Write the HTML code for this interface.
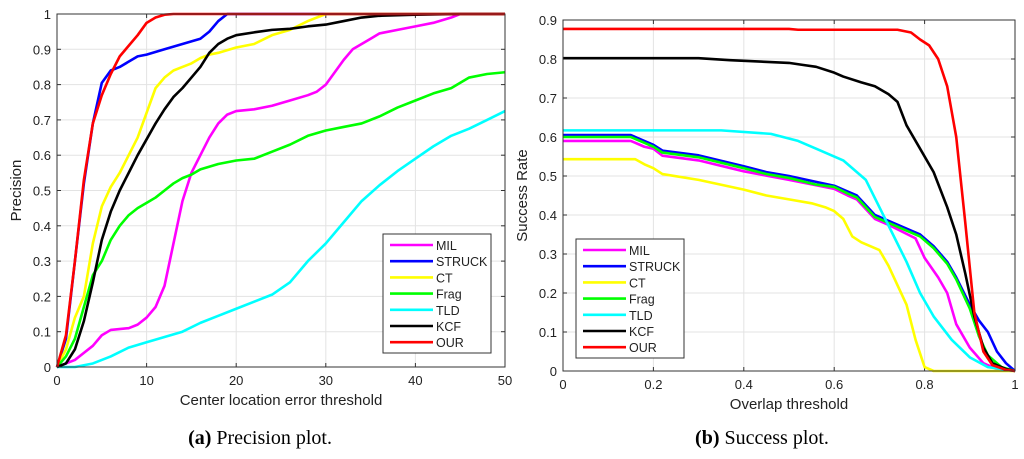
<!DOCTYPE html>
<html><head><meta charset="utf-8"><style>
body{margin:0;background:#fff;width:1024px;height:459px;overflow:hidden}
svg{display:block}
text{font-family:"Liberation Sans",sans-serif;fill:#222}
.cap{font-family:"Liberation Serif",serif;font-size:20px;fill:#000}
</style></head><body>
<svg id="s" width="1024" height="459">
<text class="cap" x="260" y="444" text-anchor="middle"><tspan font-weight="bold">(a)</tspan> Precision plot.</text>
<text class="cap" x="762" y="444" text-anchor="middle"><tspan font-weight="bold">(b)</tspan> Success plot.</text>
</svg>
<script>
const names=["MIL","STRUCK","CT","Frag","TLD","KCF","OUR"];
const colors=["#ff00ff","#0000ff","#ffff00","#00ff00","#00ffff","#000000","#ff0000"];
// Precision plot data [x, y]
const pMIL=[[0,0],[1,0.01],[2,0.02],[3,0.04],[4,0.06],[5,0.09],[6,0.105],[8,0.11],[9,0.12],[10,0.14],[11,0.17],[12,0.23],[13,0.35],[14,0.47],[15,0.55],[16,0.6],[17,0.65],[18,0.69],[19,0.715],[20,0.725],[22,0.73],[24,0.74],[26,0.755],[28,0.77],[29,0.78],[30,0.8],[31,0.835],[32,0.87],[33,0.9],[35,0.93],[36,0.945],[38,0.955],[40,0.965],[42,0.975],[44,0.99],[45,1],[50,1]];
const pSTRUCK=[[0,0],[1,0.08],[2,0.3],[3,0.52],[4,0.69],[5,0.805],[6,0.84],[7,0.85],[8,0.865],[9,0.88],[10,0.885],[12,0.9],[14,0.915],[16,0.93],[17,0.95],[18,0.98],[19,1],[50,1]];
const pCT=[[0,0],[1,0.05],[2,0.14],[3,0.2],[4,0.35],[5,0.455],[6,0.51],[7,0.55],[8,0.6],[9,0.65],[10,0.72],[11,0.79],[12,0.82],[13,0.84],[14,0.85],[15,0.86],[16,0.875],[17,0.885],[18,0.89],[20,0.905],[22,0.915],[24,0.94],[26,0.955],[28,0.98],[30,1],[50,1]];
const pFrag=[[0,0],[1,0.03],[2,0.08],[3,0.17],[4,0.26],[5,0.3],[6,0.36],[7,0.4],[8,0.43],[9,0.45],[10,0.465],[11,0.48],[12,0.5],[13,0.52],[14,0.535],[15,0.545],[16,0.56],[18,0.575],[20,0.585],[22,0.59],[24,0.61],[26,0.63],[28,0.655],[30,0.67],[32,0.68],[34,0.69],[36,0.71],[38,0.735],[40,0.755],[42,0.775],[44,0.79],[46,0.82],[48,0.83],[50,0.835]];
const pTLD=[[0,0],[2,0],[4,0.01],[6,0.03],[8,0.055],[10,0.07],[12,0.085],[14,0.1],[16,0.125],[18,0.145],[20,0.165],[22,0.185],[24,0.205],[26,0.24],[28,0.3],[30,0.35],[32,0.41],[34,0.47],[36,0.515],[38,0.555],[40,0.59],[42,0.625],[44,0.655],[46,0.675],[48,0.7],[50,0.725]];
const pKCF=[[0,0],[1,0.01],[2,0.05],[3,0.13],[4,0.24],[5,0.36],[6,0.44],[7,0.5],[8,0.55],[9,0.6],[10,0.645],[11,0.69],[12,0.73],[13,0.765],[14,0.79],[15,0.82],[16,0.85],[17,0.89],[18,0.915],[19,0.93],[20,0.94],[22,0.948],[24,0.955],[26,0.958],[28,0.965],[30,0.97],[32,0.98],[34,0.99],[36,0.995],[40,0.998],[45,1],[50,1]];
const pOUR=[[0,0],[1,0.09],[2,0.3],[3,0.53],[4,0.69],[5,0.77],[6,0.83],[7,0.88],[8,0.91],[9,0.94],[10,0.975],[11,0.99],[12,0.998],[13,1],[50,1]];
// Success plot data
const sMIL=[[0,0.59],[0.15,0.59],[0.18,0.575],[0.2,0.57],[0.22,0.552],[0.3,0.54],[0.4,0.512],[0.5,0.49],[0.6,0.467],[0.63,0.45],[0.65,0.44],[0.67,0.415],[0.69,0.39],[0.72,0.375],[0.78,0.34],[0.8,0.29],[0.83,0.24],[0.85,0.2],[0.87,0.12],[0.9,0.06],[0.93,0.02],[0.96,0.005],[1,0]];
const sSTRUCK=[[0,0.605],[0.15,0.605],[0.18,0.59],[0.2,0.58],[0.22,0.565],[0.3,0.553],[0.4,0.525],[0.45,0.51],[0.5,0.5],[0.56,0.485],[0.6,0.475],[0.63,0.46],[0.65,0.45],[0.67,0.425],[0.69,0.4],[0.72,0.385],[0.77,0.36],[0.79,0.35],[0.82,0.32],[0.85,0.28],[0.87,0.24],[0.9,0.17],[0.92,0.13],[0.94,0.1],[0.96,0.05],[0.98,0.02],[1,0]];
const sCT=[[0,0.543],[0.16,0.543],[0.18,0.53],[0.2,0.52],[0.22,0.505],[0.3,0.49],[0.4,0.465],[0.45,0.45],[0.5,0.44],[0.55,0.43],[0.58,0.42],[0.6,0.41],[0.62,0.39],[0.64,0.345],[0.66,0.33],[0.7,0.31],[0.72,0.27],[0.74,0.22],[0.76,0.17],[0.78,0.08],[0.8,0.01],[0.82,0],[1,0]];
const sFrag=[[0,0.6],[0.15,0.6],[0.18,0.585],[0.2,0.575],[0.22,0.56],[0.3,0.548],[0.4,0.52],[0.45,0.505],[0.5,0.495],[0.56,0.478],[0.6,0.472],[0.63,0.455],[0.65,0.445],[0.67,0.42],[0.69,0.395],[0.72,0.38],[0.77,0.355],[0.79,0.345],[0.82,0.315],[0.85,0.275],[0.87,0.235],[0.9,0.16],[0.92,0.09],[0.94,0.04],[0.97,0.01],[1,0]];
const sTLD=[[0,0.617],[0.35,0.617],[0.46,0.608],[0.52,0.59],[0.56,0.57],[0.62,0.54],[0.67,0.49],[0.7,0.42],[0.73,0.35],[0.76,0.28],[0.79,0.2],[0.82,0.14],[0.86,0.08],[0.9,0.035],[0.94,0.01],[1,0]];
const sKCF=[[0,0.802],[0.3,0.802],[0.37,0.797],[0.5,0.79],[0.53,0.785],[0.56,0.78],[0.6,0.765],[0.62,0.755],[0.66,0.74],[0.69,0.73],[0.72,0.71],[0.74,0.69],[0.76,0.63],[0.79,0.57],[0.82,0.51],[0.85,0.42],[0.87,0.35],[0.89,0.25],[0.91,0.14],[0.93,0.06],[0.95,0.02],[0.98,0.005],[1,0]];
const sOUR=[[0,0.877],[0.5,0.877],[0.52,0.875],[0.74,0.875],[0.77,0.868],[0.79,0.85],[0.81,0.835],[0.83,0.8],[0.85,0.73],[0.87,0.6],[0.89,0.38],[0.91,0.15],[0.93,0.05],[0.95,0.015],[0.98,0.003],[1,0]];
const pTicksX=[0,10,20,30,40,50];
const pTicksY=[0,0.1,0.2,0.3,0.4,0.5,0.6,0.7,0.8,0.9,1];
const sTicksX=[0,0.2,0.4,0.6,0.8,1];
const sTicksY=[0,0.1,0.2,0.3,0.4,0.5,0.6,0.7,0.8,0.9];

const NS="http://www.w3.org/2000/svg",svg=document.getElementById('s');
function el(t,a,p){const e=document.createElementNS(NS,t);for(const k in a)e.setAttribute(k,a[k]);(p||svg).appendChild(e);return e;}
function chart(id,L,R,T,B,xmax,ymax,tx,ty,series,xt,yt,lg,fmt){
  const g=el('g',{});
  
  
  const X=v=>L+v/xmax*(R-L),Y=v=>B-v/ymax*(B-T);
  tx.forEach(v=>{const l=el('line',{x1:X(v),x2:X(v),y1:T,y2:B,stroke:'#e3e3e3'},g);
    
    const t=el('text',{x:X(v),y:B+18,'font-size':13,'text-anchor':'middle'},g);t.textContent=fmt(v);
    
    el('line',{x1:X(v),x2:X(v),y1:B,y2:B-4,stroke:'#333'},g);el('line',{x1:X(v),x2:X(v),y1:T,y2:T+4,stroke:'#333'},g);});
  ty.forEach(v=>{const l=el('line',{x1:L,x2:R,y1:Y(v),y2:Y(v),stroke:'#e3e3e3'},g);
    
    const t=el('text',{x:L-6,y:Y(v)+5,'font-size':13,'text-anchor':'end'},g);t.textContent=fmt(v);
    
    el('line',{x1:L,x2:L+4,y1:Y(v),y2:Y(v),stroke:'#333'},g);el('line',{x1:R,x2:R-4,y1:Y(v),y2:Y(v),stroke:'#333'},g);});
  series.forEach((d,i)=>{const p=el('polyline',{points:d.map(q=>X(q[0])+','+Y(q[1])).join(' '),fill:'none',stroke:colors[i],'stroke-width':2.6,'stroke-linejoin':'round'},g);
    });
  const f=el('rect',{x:L,y:T,width:R-L,height:B-T,fill:'none',stroke:'#333','stroke-width':1},g);
  
  const xl=el('text',{x:(L+R)/2,y:B+38,'font-size':15,'text-anchor':'middle'},g);xl.textContent=xt;
  
  const yl=el('text',{x:0,y:0,'font-size':15,'text-anchor':'middle',transform:`translate(${L-36},${(T+B)/2}) rotate(-90)`},g);yl.textContent=yt;
  
  const lgG=el('g',{},g);
  
  el('rect',{x:lg[0],y:lg[1],width:lg[2],height:lg[3],fill:'#fff',stroke:'#333'},lgG);
  names.forEach((n,i)=>{const y=lg[1]+11+i*16.2;
    el('line',{x1:lg[0]+7,x2:lg[0]+50,y1:y,y2:y,stroke:colors[i],'stroke-width':2.6},lgG);
    const t=el('text',{x:lg[0]+53,y:y+5,'font-size':12.5},lgG);t.textContent=n;
    });
}
chart('precision-chart',57,505,14,367,50,1,pTicksX,pTicksY,[pMIL,pSTRUCK,pCT,pFrag,pTLD,pKCF,pOUR],'Center location error threshold','Precision',[383,234,108,119],v=>String(v));
chart('success-chart',563,1015,20,371,1,0.9,sTicksX,sTicksY,[sMIL,sSTRUCK,sCT,sFrag,sTLD,sKCF,sOUR],'Overlap threshold','Success Rate',[576,239,108,119],v=>String(+v.toFixed(1)));
</script>
</body></html>
